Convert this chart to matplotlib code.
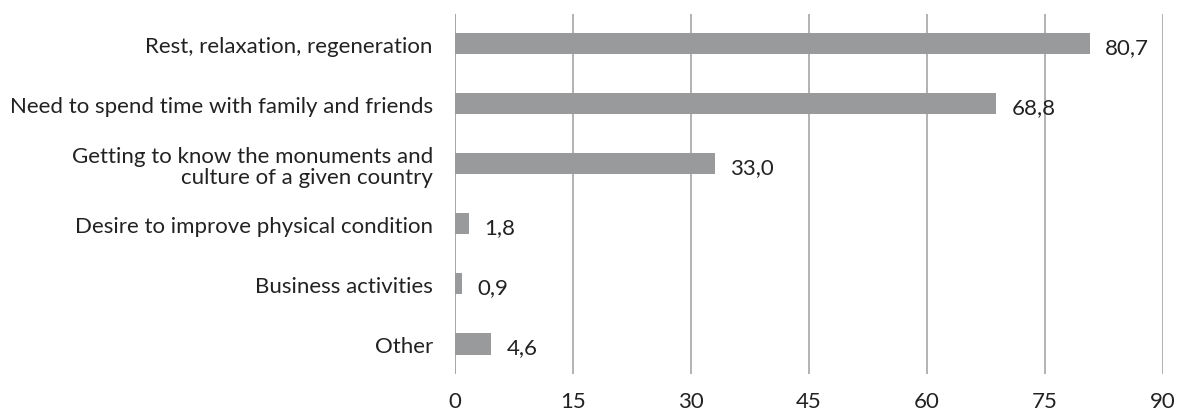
import matplotlib
matplotlib.use("Agg")
import matplotlib.pyplot as plt

categories = [
    "Rest, relaxation, regeneration",
    "Need to spend time with family and friends",
    "Getting to know the monuments and\nculture of a given country",
    "Desire to improve physical condition",
    "Business activities",
    "Other",
]
values = [80.7, 68.8, 33.0, 1.8, 0.9, 4.6]
ticks = [0, 15, 30, 45, 60, 75, 90]

BAR_COLOR = "#999a9c"
GRID_COLOR = "#a6a6a6"
TEXT_COLOR = "#222222"

plt.rcParams["font.family"] = ["Lato", "DejaVu Sans"]

fig = plt.figure(figsize=(11.79, 4.14), dpi=100)
ax = fig.add_axes([0.3859, 0.0942, 0.6005, 0.8696])

pos = list(range(len(categories)))
ax.barh(pos, values, height=0.35, color=BAR_COLOR, zorder=2)
ax.set_ylim(len(categories) - 0.5, -0.5)
ax.set_xlim(0, 90)
ax.set_xticks(ticks)
ax.set_xticklabels([str(t) for t in ticks], fontsize=16, color=TEXT_COLOR)
ax.set_yticks(pos)
ax.set_yticklabels(categories, fontsize=16, color=TEXT_COLOR, linespacing=1.05)
ax.tick_params(axis="x", length=0, pad=12)
ax.tick_params(axis="y", length=0, pad=16)
ax.grid(axis="x", color=GRID_COLOR, lw=1.2, zorder=0)
ax.set_axisbelow(True)
for s in ax.spines.values():
    s.set_visible(False)
ax.axvline(0, color=GRID_COLOR, lw=1.2, zorder=1)

for p, v in zip(pos, values):
    ax.annotate(f"{v:.1f}".replace(".", ","), (v, p), xytext=(11, -2),
                textcoords="offset points", ha="left", va="center",
                fontsize=16, color=TEXT_COLOR)

fig.savefig("out.png", dpi=100)
